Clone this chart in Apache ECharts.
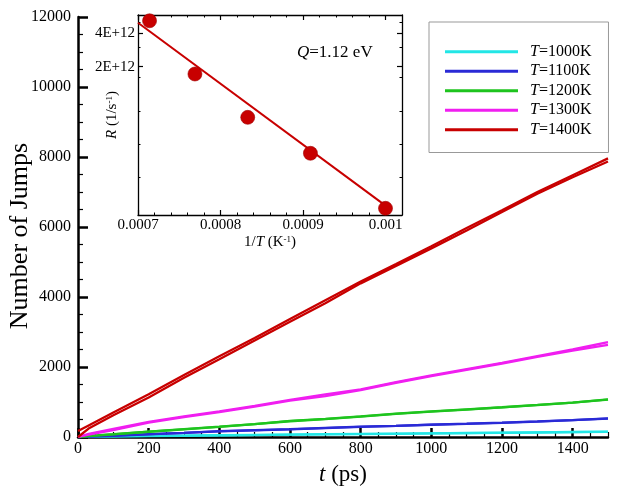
<!DOCTYPE html>
<html><head><meta charset="utf-8">
<script src="https://cdn.jsdelivr.net/npm/echarts@6/dist/echarts.min.js"></script>
<style>html,body{margin:0;padding:0;background:#fff}#c{width:624px;height:492px}</style>
</head><body><div id="c"></div>
<script>
// ---------- data ----------
const times = [0, 30, 100, 200, 300, 400, 500, 600, 700, 800, 900, 1000, 1100, 1200, 1300, 1400, 1500];
const jumps1000a = [0, 10, 20, 30, 40, 50, 60, 70, 80, 88, 96, 105, 114, 123, 133, 143, 155];
const jumps1000b = [0, 8, 17, 27, 36, 46, 55, 65, 74, 83, 92, 101, 110, 119, 128, 138, 148];
const jumps1100a = [0, 15, 40, 80, 120, 165, 195, 225, 260, 295, 320, 355, 380, 410, 445, 485, 535];
const jumps1100b = [0, 12, 35, 75, 115, 160, 190, 220, 255, 290, 315, 350, 375, 405, 440, 480, 525];
const jumps1200a = [0, 30, 80, 155, 225, 295, 370, 460, 520, 590, 670, 730, 790, 850, 915, 985, 1075];
const jumps1200b = [0, 25, 75, 150, 220, 290, 365, 450, 510, 585, 660, 725, 785, 845, 910, 980, 1065];
const jumps1300a = [0, 90, 230, 430, 590, 730, 890, 1060, 1220, 1360, 1570, 1760, 1940, 2120, 2310, 2500, 2710];
const jumps1300b = [0, 70, 200, 410, 570, 710, 870, 1040, 1170, 1340, 1550, 1740, 1920, 2100, 2290, 2470, 2630];
const jumps1400a = [170, 330, 700, 1220, 1770, 2310, 2830, 3370, 3910, 4440, 4940, 5450, 5970, 6480, 7000, 7480, 7960];
const jumps1400b = [0, 240, 620, 1130, 1690, 2220, 2760, 3290, 3820, 4390, 4890, 5390, 5900, 6430, 6950, 7420, 7870];
const legendNames = ['T=1000K', 'T=1100K', 'T=1200K', 'T=1300K', 'T=1400K'];
const lineColors = ['#22e6e6', '#2a2ad6', '#1ec41e', '#f01ef0', '#c80000'];

// inset: rate vs 1/T
const invT = [0.000714, 0.000769, 0.000833, 0.000909, 0.001];
const rates = [5.19e12, 1.72e12, 7.0e11, 3.32e11, 1.06e11];
const fitInvT = [0.0007, 0.001];
const fitRate = [4.98e12, 1.12e11];

// tick positions / labels
const xMajorTicks = [0, 200, 400, 600, 800, 1000, 1200, 1400];
const xMinorTicks = [50, 100, 150, 250, 300, 350, 450, 500, 550, 650, 700, 750, 850, 900, 950, 1050, 1100, 1150, 1250, 1300, 1350, 1450, 1500];
const insetXMajor = [0.0007, 0.0008, 0.0009, 0.001];
const insetXMinor = [0.00072, 0.00074, 0.00076, 0.00078, 0.00082, 0.00084, 0.00086, 0.00088, 0.00092, 0.00094, 0.00096, 0.00098, 0.00102];
const insetYMajor = [2e12, 4e12];
const insetYMinor = [5e12, 3e12, 1.6e12, 8e11, 4e11, 2e11];

// ---------- chart ----------
const F = '"Liberation Serif", "Times New Roman", serif';
const BLK = '#000';
const chart = echarts.init(document.getElementById('c'), null, {renderer: 'canvas'});

const seriesSets = [
  [jumps1000a, jumps1000b], [jumps1100a, jumps1100b], [jumps1200a, jumps1200b],
  [jumps1300a, jumps1300b], [jumps1400a, jumps1400b]
];
const series = [];
seriesSets.forEach((pair, k) => {
  pair.forEach(arr => {
    series.push({
      type: 'line', name: legendNames[k], xAxisIndex: 0, yAxisIndex: 0,
      data: times.map((t, i) => [t, arr[i]]),
      symbol: 'none', showSymbol: false,
      lineStyle: {color: lineColors[k], width: 2.3},
      itemStyle: {color: lineColors[k]},
      z: 3
    });
  });
});
series.push({
  type: 'line', name: 'fit', xAxisIndex: 2, yAxisIndex: 1,
  data: fitInvT.map((x, i) => [x, fitRate[i]]),
  symbol: 'none', lineStyle: {color: '#c80000', width: 2}, z: 4
});
series.push({
  type: 'scatter', name: 'rate', xAxisIndex: 2, yAxisIndex: 1,
  data: invT.map((x, i) => [x, rates[i]]),
  symbolSize: 14, itemStyle: {color: '#c80000', opacity: 1, borderColor: '#a00000', borderWidth: 0.6}, z: 5
});

const noSplit = {show: false};
function tickAx(base, vals, len, w, showLine) {
  return Object.assign({
    splitLine: noSplit,
    axisLabel: {show: false},
    axisLine: {show: !!showLine, onZero: false, lineStyle: {color: BLK, width: 1.3}},
    axisTick: {show: true, inside: true, length: len, customValues: vals, lineStyle: {color: BLK, width: w}}
  }, base);
}

const option = {
  animation: false,
  backgroundColor: '#fff',
  grid: [
    {left: 78, top: 17, width: 530, height: 420, outerBoundsMode: 'none', containLabel: false},
    {left: 138, top: 15, width: 264, height: 200, outerBoundsMode: 'none', containLabel: false}
  ],
  legend: {
    data: legendNames, orient: 'vertical', left: 429, top: 22,
    padding: [20, 17, 13, 16], borderColor: '#999', borderWidth: 1, backgroundColor: '#fff',
    itemWidth: 73, itemHeight: 3, icon: 'rect', itemGap: 0,
    formatter: n => '{i|T}' + n.slice(1),
    textStyle: {fontFamily: F, fontSize: 16, color: BLK, lineHeight: 19.5, padding: [0, 0, 0, 7],
      rich: {i: {fontStyle: 'italic', fontFamily: F, fontSize: 16, color: BLK}}}
  },
  xAxis: [
    {type: 'value', gridIndex: 0, position: 'bottom', min: 0, max: 1500, interval: 200,
     splitLine: noSplit, nameMoveOverlap: false,
     axisLine: {onZero: false, lineStyle: {color: BLK, width: 2.5}},
     axisTick: {inside: true, length: 9, customValues: xMajorTicks, lineStyle: {color: BLK, width: 2.5}},
     axisLabel: {customValues: xMajorTicks, margin: 4, color: BLK, fontFamily: F, fontSize: 16, formatter: v => String(v)},
     name: '{i|t} (ps)', nameLocation: 'middle', nameGap: 26,
     nameTextStyle: {fontFamily: F, fontSize: 23, color: BLK, rich: {i: {fontStyle: 'italic', fontFamily: F, fontSize: 23, color: BLK}}}},
    tickAx({type: 'value', gridIndex: 0, position: 'bottom', min: 0, max: 1500}, xMinorTicks, 5, 1.2, false),
    {type: 'value', gridIndex: 1, position: 'bottom', min: 0.0007, max: 0.00102,
     splitLine: noSplit, nameMoveOverlap: false,
     axisLine: {onZero: false, lineStyle: {color: BLK, width: 1.3}},
     axisTick: {inside: true, length: 5, customValues: insetXMajor, lineStyle: {color: BLK, width: 1.2}},
     axisLabel: {customValues: insetXMajor, margin: 3, color: BLK, fontFamily: F, fontSize: 15,
       formatter: v => String(+v.toFixed(4))},
     name: '1/{i|T} (K{s|-1})', nameLocation: 'middle', nameGap: 20,
     nameTextStyle: {fontFamily: F, fontSize: 15, color: BLK,
       rich: {i: {fontStyle: 'italic', fontFamily: F, fontSize: 15, color: BLK},
              s: {fontFamily: F, fontSize: 9, color: BLK, verticalAlign: 'top', padding: [0, 0, 6, 0]}}}},
    tickAx({type: 'value', gridIndex: 1, position: 'bottom', min: 0.0007, max: 0.00102}, insetXMinor, 2.5, 1, false),
    tickAx({type: 'value', gridIndex: 1, position: 'top', min: 0.0007, max: 0.00102}, insetXMajor, 5, 1.2, true),
    tickAx({type: 'value', gridIndex: 1, position: 'top', min: 0.0007, max: 0.00102}, insetXMinor, 2.5, 1, false)
  ],
  yAxis: [
    {type: 'value', gridIndex: 0, position: 'left', min: 0, max: 12000, interval: 2000,
     splitLine: noSplit, nameMoveOverlap: false,
     axisLine: {show: true, onZero: false, lineStyle: {color: BLK, width: 2.5}},
     axisTick: {inside: true, length: 10, lineStyle: {color: BLK, width: 2.5}},
     minorTick: {show: true, splitNumber: 4, length: 5, lineStyle: {color: BLK, width: 1.2}},
     axisLabel: {margin: 7, color: BLK, fontFamily: F, fontSize: 16, formatter: v => String(v)},
     name: 'Number of Jumps', nameLocation: 'middle', nameGap: 45,
     nameTextStyle: {fontFamily: F, fontSize: 26, color: BLK, padding: [0, 18, 0, 0]}},
    {type: 'log', gridIndex: 1, position: 'left', min: 9.23e10, max: 5.85e12,
     splitLine: noSplit, minorSplitLine: noSplit, nameMoveOverlap: false,
     axisLine: {show: true, onZero: false, lineStyle: {color: BLK, width: 1.3}},
     axisTick: {inside: true, length: 5, customValues: insetYMajor, lineStyle: {color: BLK, width: 1.2}},
     axisLabel: {customValues: insetYMajor, margin: 3, color: BLK, fontFamily: F, fontSize: 15,
       formatter: v => Math.round(v / 1e12) + 'E+12'},
     name: '{i|R} (1/s{s|-1})', nameLocation: 'middle', nameGap: 18, nameRotate: 90,
     nameTextStyle: {fontFamily: F, fontSize: 15, color: BLK,
       rich: {i: {fontStyle: 'italic', fontFamily: F, fontSize: 15, color: BLK},
              s: {fontFamily: F, fontSize: 9, color: BLK, verticalAlign: 'top', padding: [0, 0, 6, 0]}}}},
    tickAx({type: 'log', gridIndex: 1, position: 'left', min: 9.23e10, max: 5.85e12}, insetYMinor, 2.5, 1, false),
    tickAx({type: 'log', gridIndex: 1, position: 'right', min: 9.23e10, max: 5.85e12}, insetYMajor, 5, 1.2, true),
    tickAx({type: 'log', gridIndex: 1, position: 'right', min: 9.23e10, max: 5.85e12}, insetYMinor, 2.5, 1, false)
  ],
  graphic: [{
    type: 'text', left: 297, top: 44, z: 10,
    style: {text: '{i|Q}=1.12 eV', fill: BLK, font: '17px ' + F,
      rich: {i: {fontStyle: 'italic', fontFamily: F, fontSize: 17, fill: BLK}}}
  }],
  series: series
};
chart.setOption(option);
</script></body></html>
